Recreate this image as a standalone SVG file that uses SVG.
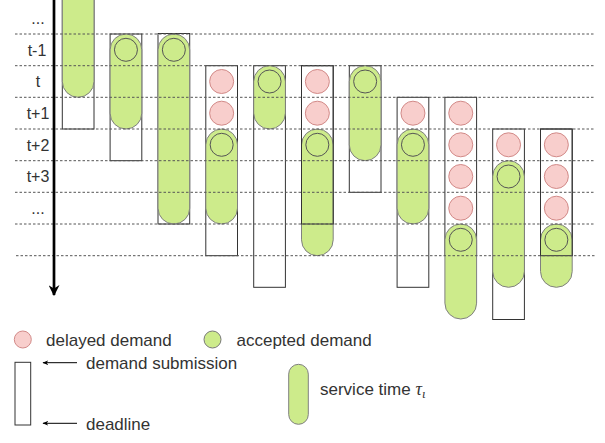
<svg xmlns="http://www.w3.org/2000/svg" width="605" height="443" viewBox="0 0 605 443">
<defs>
<style>
.bx{fill:#fff;stroke:#333;stroke-width:1}
.bo{fill:none;stroke:#333;stroke-width:1}
.pl{fill:#cdeb8b;stroke:#808080;stroke-width:1}
.ac{fill:#cdeb8b;stroke:#555;stroke-width:1}
.dl{fill:#f8cecc;stroke:#d28a88;stroke-width:1}
.gd{stroke:#555;stroke-width:1;stroke-dasharray:2.5 2;fill:none}
.lb{font-family:"Liberation Sans",Arial,sans-serif;font-size:16px;fill:#333;text-anchor:middle}
.lg{font-family:"Liberation Sans",Arial,sans-serif;font-size:17px;fill:#333}
</style>
<marker id="ah" viewBox="0 0 10 10" refX="9" refY="5" markerWidth="6" markerHeight="6" orient="auto-start-reverse" markerUnits="userSpaceOnUse">
<path d="M0,1 L10,5 L0,9 L3,5 Z" fill="#000"/>
</marker>
<marker id="axh" viewBox="0 0 10 10" refX="9" refY="5" markerWidth="11" markerHeight="11" orient="auto" markerUnits="userSpaceOnUse">
<path d="M0,0 L10,5 L0,10 L3,5 Z" fill="#000"/>
</marker>
</defs>
<rect width="605" height="443" fill="#fff"/>

<g id="labels">
<text class="lb" x="38" y="23.5">...</text>
<text class="lb" x="37" y="55.5">t-1</text>
<text class="lb" x="38" y="87.2">t</text>
<text class="lb" x="38" y="118.9">t+1</text>
<text class="lb" x="38" y="150.5">t+2</text>
<text class="lb" x="38" y="182.2">t+3</text>
<text class="lb" x="38" y="213.8">...</text>
</g>

<g id="col1">
<rect class="bx" x="62.3" y="-40" width="31.7" height="169"/>
<rect class="pl" x="62.3" y="-40" width="31.7" height="137.3" rx="15.85"/>
</g>
<g id="col2">
<rect class="bx" x="110.1" y="34" width="31.7" height="126.7"/>
<rect class="pl" x="110.1" y="34" width="31.7" height="95" rx="15.85"/>
<circle class="ac" cx="125.95" cy="49.8" r="11.5"/>
</g>
<g id="col3">
<rect class="bx" x="158" y="33.5" width="31.7" height="190.5"/>
<rect class="pl" x="158" y="34" width="31.7" height="190" rx="15.85"/>
<circle class="ac" cx="173.85" cy="49.8" r="11.5"/>
</g>
<g id="col4">
<rect class="bx" x="205.8" y="65.7" width="31.7" height="190"/>
<circle class="dl" cx="221.65" cy="81.5" r="12"/>
<circle class="dl" cx="221.65" cy="113.2" r="12"/>
<rect class="pl" x="205.8" y="129" width="31.7" height="95" rx="15.85"/>
<circle class="ac" cx="221.65" cy="144.8" r="11.5"/>
</g>
<g id="col5">
<rect class="bx" x="253.7" y="65.7" width="31.7" height="221.6"/>
<rect class="pl" x="253.7" y="65.7" width="31.7" height="63.3" rx="15.85"/>
<circle class="ac" cx="269.55" cy="81.5" r="11.5"/>
</g>
<g id="col6">
<rect class="bx" x="301.5" y="65.7" width="31.7" height="158.3"/>
<circle class="dl" cx="317.35" cy="81.5" r="12"/>
<circle class="dl" cx="317.35" cy="113.2" r="12"/>
<rect class="pl" x="301.5" y="129" width="31.7" height="126.7" rx="15.85"/>
<circle class="ac" cx="317.35" cy="144.8" r="11.5"/>
<rect class="bo" x="301.5" y="65.7" width="31.7" height="158.3"/>
</g>
<g id="col7">
<rect class="bx" x="349.3" y="65.7" width="31.7" height="126.6"/>
<rect class="pl" x="349.3" y="65.7" width="31.7" height="95" rx="15.85"/>
<circle class="ac" cx="365.15" cy="81.5" r="11.5"/>
</g>
<g id="col8">
<rect class="bx" x="397.1" y="97.3" width="31.7" height="190"/>
<circle class="dl" cx="412.95" cy="113.2" r="12"/>
<rect class="pl" x="397.1" y="129" width="31.7" height="95" rx="15.85"/>
<circle class="ac" cx="412.95" cy="144.8" r="11.5"/>
</g>
<g id="col9">
<rect class="bx" x="444.9" y="97.3" width="31.7" height="158.4"/>
<circle class="dl" cx="460.75" cy="113.2" r="12"/>
<circle class="dl" cx="460.75" cy="144.8" r="12"/>
<circle class="dl" cx="460.75" cy="176.5" r="12"/>
<circle class="dl" cx="460.75" cy="208.2" r="12"/>
<rect class="pl" x="444.9" y="224" width="31.7" height="95" rx="15.85"/>
<circle class="ac" cx="460.75" cy="239.8" r="11.5"/>
</g>
<g id="col10">
<rect class="bx" x="492.7" y="129" width="31.7" height="190.5"/>
<circle class="dl" cx="508.55" cy="144.8" r="12"/>
<rect class="pl" x="492.7" y="160.7" width="31.7" height="126.6" rx="15.85"/>
<circle class="ac" cx="508.55" cy="176.5" r="11.5"/>
</g>
<g id="col11">
<rect class="bx" x="540.5" y="129" width="31.7" height="126.7"/>
<circle class="dl" cx="556.35" cy="144.8" r="12"/>
<circle class="dl" cx="556.35" cy="176.5" r="12"/>
<circle class="dl" cx="556.35" cy="208.2" r="12"/>
<rect class="pl" x="540.5" y="224" width="31.7" height="63.3" rx="15.85"/>
<circle class="ac" cx="556.35" cy="239.8" r="11.5"/>
<rect class="bo" x="540.5" y="129" width="31.7" height="126.7"/>
</g>

<g id="gridlines">
<line class="gd" x1="15" y1="34" x2="595" y2="34"/>
<line class="gd" x1="15" y1="65.7" x2="595" y2="65.7"/>
<line class="gd" x1="15" y1="97.3" x2="595" y2="97.3"/>
<line class="gd" x1="15" y1="129" x2="595" y2="129"/>
<line class="gd" x1="15" y1="160.7" x2="595" y2="160.7"/>
<line class="gd" x1="15" y1="192.3" x2="595" y2="192.3"/>
<line class="gd" x1="15" y1="224" x2="595" y2="224"/>
<line class="gd" x1="16" y1="255.7" x2="595" y2="255.7"/>
</g>

<g id="connectors">
<line x1="54" y1="0" x2="54" y2="295" stroke="#000" stroke-width="2.7" marker-end="url(#axh)"/>
<line x1="77" y1="362.7" x2="43" y2="362.7" stroke="#000" stroke-width="1" marker-end="url(#ah)"/>
<line x1="77" y1="423.3" x2="43" y2="423.3" stroke="#000" stroke-width="1" marker-end="url(#ah)"/>
</g>

<g id="legend-delayed">
<circle class="dl" cx="22.8" cy="339.5" r="8.5"/>
<text class="lg" x="46" y="345.5">delayed demand</text>
</g>
<g id="legend-accepted">
<circle class="ac" cx="212.5" cy="339.5" r="8.5" style="stroke:#777"/>
<text class="lg" x="236.5" y="345.5">accepted demand</text>
</g>
<g id="legend-window">
<rect class="bx" x="15" y="362.3" width="15.7" height="62.7"/>
<text class="lg" x="86" y="368.5">demand submission</text>
<text class="lg" x="86" y="430">deadline</text>
</g>
<g id="legend-service">
<rect class="pl" x="288.7" y="364.3" width="19.6" height="60" rx="9.8"/>
<text class="lg" x="320" y="395">service time <tspan font-family="'Liberation Serif',serif" font-style="italic" font-size="18">τ</tspan><tspan font-family="'Liberation Serif',serif" font-style="italic" font-size="13" dy="3">ι</tspan></text>
</g>
</svg>
